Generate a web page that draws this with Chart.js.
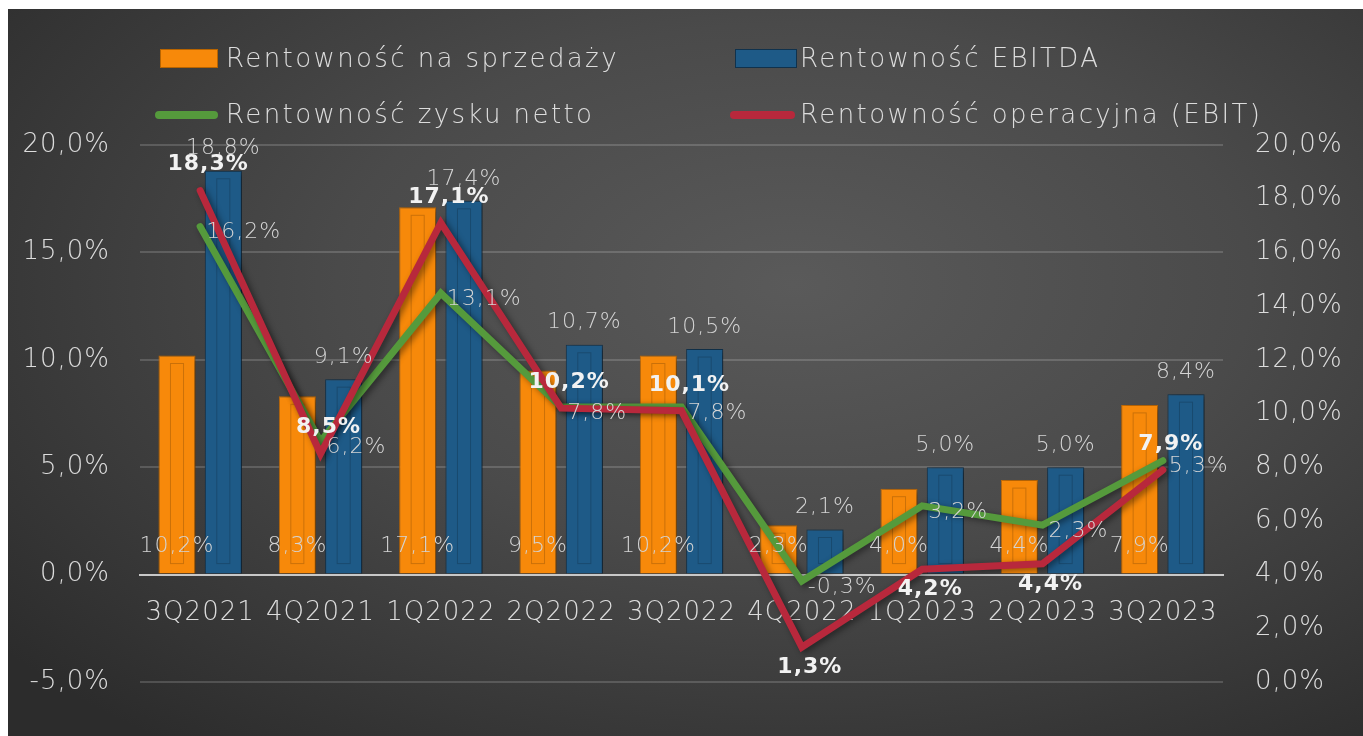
<!DOCTYPE html>
<html>
<head>
<meta charset="utf-8">
<script src="https://cdn.jsdelivr.net/npm/chart.js@4.4.0/dist/chart.umd.min.js"></script>
<style>
  body { margin: 0; background: #fff; }
  #wrap {
    position: absolute; left: 8px; top: 9px; width: 1355px; height: 727px;
    background: radial-gradient(ellipse 75% 80% at 58% 38%, #5a5a5a 0%, #4a4a4a 45%, #2c2c2c 100%);
    font-family: "DejaVu Sans", sans-serif;
  }
  #chart { position: absolute; left: 0; top: 0; }
  .leg { position: absolute; color: #dcdcdc; font-size: 26px; font-weight: 200; letter-spacing: 2.4px; line-height: 30px; white-space: nowrap; }
  .sw { position: absolute; }
</style>
</head>
<body>
<div id="wrap">
  <canvas id="chart" width="1355" height="727"></canvas>
  <div class="sw" style="left:152px;top:40px;width:56px;height:17px;background:#f7890a;border:1px solid #b86400;"></div>
  <div class="leg" style="left:218px;top:34px;">Rentowność na sprzedaży</div>
  <div class="sw" style="left:727px;top:40px;width:60px;height:17px;background:#1e5a87;border:1px solid #10324d;"></div>
  <div class="leg" style="left:792px;top:34px;">Rentowność EBITDA</div>
  <div class="sw" style="left:147px;top:102px;width:63px;height:8px;border-radius:4px;background:#559a3c;"></div>
  <div class="leg" style="left:218px;top:90px;">Rentowność zysku netto</div>
  <div class="sw" style="left:722px;top:102px;width:65px;height:8px;border-radius:4px;background:#b8283c;"></div>
  <div class="leg" style="left:792px;top:90px;">Rentowność operacyjna (EBIT)</div>
</div>
<script>
// Quarters and margins (%)
const quarters = ["3Q2021", "4Q2021", "1Q2022", "2Q2022", "3Q2022", "4Q2022", "1Q2023", "2Q2023", "3Q2023"];
const salesMargin = [10.2, 8.3, 17.1, 9.5, 10.2, 2.3, 4.0, 4.4, 7.9];
const ebitdaMargin = [18.8, 9.1, 17.4, 10.7, 10.5, 2.1, 5.0, 5.0, 8.4];
const netMargin = [16.2, 6.2, 13.1, 7.8, 7.8, -0.3, 3.2, 2.3, 5.3];
const ebitMargin = [18.3, 8.5, 17.1, 10.2, 10.1, 1.3, 4.2, 4.4, 7.9];

const fmt = (v) => v.toFixed(1).replace(".", ",") + "%";
const FONT = "'DejaVu Sans', sans-serif";

// slightly wider text, like the original font
const spacingPlugin = {
  id: "spacing",
  beforeDraw(chart) {
    chart.ctx.letterSpacing = "1px";
  },
};

// shadow under bars and lines, plus the faint inner frame of the bars
const shadowPlugin = {
  id: "shadows",
  beforeDatasetDraw(chart) {
    const ctx = chart.ctx;
    ctx.save();
    ctx.shadowColor = "rgba(0,0,0,0.45)";
    ctx.shadowBlur = 6;
    ctx.shadowOffsetX = 3;
    ctx.shadowOffsetY = 2;
  },
  afterDatasetDraw(chart, args) {
    const ctx = chart.ctx;
    ctx.restore();
    const meta = args.meta;
    if (meta.type !== "bar") return;
    ctx.save();
    ctx.strokeStyle = "rgba(0,0,0,0.18)";
    ctx.lineWidth = 1;
    meta.data.forEach((bar) => {
      const left = bar.x - bar.width / 2 + 12;
      const right = bar.x + bar.width / 2 - 12;
      const top = bar.y + 8;
      const bottom = bar.base - 10;
      if (bottom - top > 6) ctx.strokeRect(left, top, right - left, bottom - top);
    });
    ctx.restore();
  },
};

const labelPlugin = {
  id: "valueLabels",
  afterDatasetsDraw(chart) {
    const ctx = chart.ctx;
    const zero = chart.scales.y.getPixelForValue(0);
    ctx.save();
    ctx.textBaseline = "middle";
    chart.data.datasets.forEach((ds, i) => {
      const meta = chart.getDatasetMeta(i);
      meta.data.forEach((el, j) => {
        const v = ds.data[j];
        let x = el.x, y = el.y;
        ctx.textAlign = "center";
        ctx.font = "200 22px " + FONT;
        ctx.fillStyle = "#d4d4d4";
        if (i === 0) {
          y = zero - 28;
        } else if (i === 1) {
          y = el.y - 22;
        } else if (i === 2) {
          ctx.textAlign = "left";
          x = el.x + 6;
          y = el.y + 6;
        } else {
          ctx.font = "bold 22px " + FONT;
          ctx.fillStyle = "#f2f2f2";
          x = el.x + 8;
          y = v < 5 ? el.y + 20 : el.y - 26;
        }
        ctx.fillText(fmt(v), x, y);
      });
    });
    ctx.restore();
  },
};

const data = {
  labels: quarters,
  datasets: [
    {
      type: "bar",
      label: "Rentowność na sprzedaży",
      data: salesMargin,
      backgroundColor: "#f7890a",
      borderColor: "#c46c06",
      borderWidth: 1,
      yAxisID: "y",
      order: 2,
      categoryPercentage: 0.77,
      barPercentage: 0.8,
    },
    {
      type: "bar",
      label: "Rentowność EBITDA",
      data: ebitdaMargin,
      backgroundColor: "#1e5a87",
      borderColor: "#12344f",
      borderWidth: 1,
      yAxisID: "y",
      order: 3,
      categoryPercentage: 0.77,
      barPercentage: 0.8,
    },
    {
      type: "line",
      label: "Rentowność zysku netto",
      data: netMargin,
      borderColor: "#559a3c",
      borderWidth: 7,
      pointRadius: 0,
      borderCapStyle: "round",
      borderJoinStyle: "miter",
      yAxisID: "y",
      order: 1,
    },
    {
      type: "line",
      label: "Rentowność operacyjna (EBIT)",
      data: ebitMargin,
      borderColor: "#b8283c",
      borderWidth: 7,
      pointRadius: 0,
      borderCapStyle: "round",
      borderJoinStyle: "miter",
      yAxisID: "y1",
      order: 0,
    },
  ],
};

const tickFont = { size: 26, family: FONT, weight: 200 };

const config = {
  type: "bar",
  data: data,
  options: {
    responsive: false,
    animation: false,
    layout: { padding: { top: 136, bottom: 54, left: 0, right: 0 } },
    plugins: {
      legend: { display: false },
      tooltip: { enabled: false },
    },
    scales: {
      x: {
        position: { y: 0 },
        grid: { display: false },
        border: { color: "#c8c8c8", width: 2 },
        ticks: { color: "#dcdcdc", font: tickFont, padding: 15, maxRotation: 0, autoSkip: false },
        afterFit(scale) { scale.height = 0; },
      },
      y: {
        position: "left",
        min: -5,
        max: 20,
        ticks: { stepSize: 5, color: "#dcdcdc", font: tickFont, padding: 30, callback: (v) => fmt(v) },
        grid: { color: "rgba(255,255,255,0.16)", lineWidth: 2, drawTicks: false },
        border: { display: false },
        afterFit(scale) { scale.width = 132; },
      },
      y1: {
        position: "right",
        min: 0,
        max: 20,
        ticks: { stepSize: 2, color: "#dcdcdc", font: tickFont, padding: 32, callback: (v) => fmt(v) },
        grid: { display: false, drawTicks: false },
        border: { display: false },
        afterFit(scale) { scale.width = 140; },
      },
    },
  },
  plugins: [spacingPlugin, shadowPlugin, labelPlugin],
};

const comboChart = new Chart(document.getElementById("chart"), config);
</script>
</body>
</html>
